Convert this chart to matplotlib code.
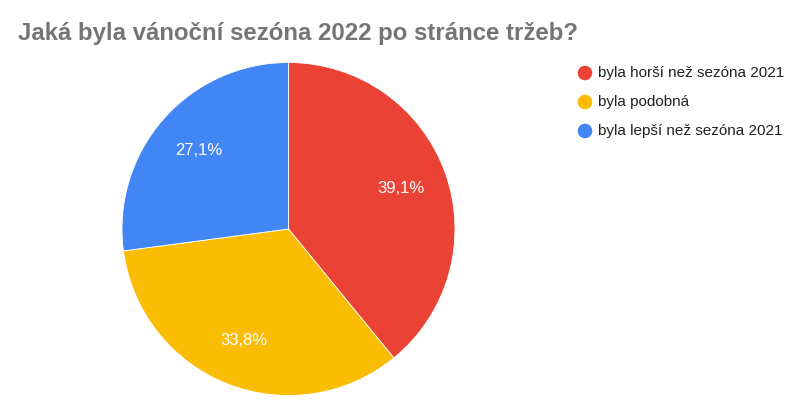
import matplotlib
matplotlib.use("Agg")
import matplotlib.pyplot as plt

plt.rcParams['font.family'] = ['Liberation Sans', 'DejaVu Sans']

title = "Jaká byla vánoční sezóna 2022 po stránce tržeb?"
labels = ["byla horší než sezóna 2021", "byla podobná", "byla lepší než sezóna 2021"]
values = [39.1, 33.8, 27.1]
colors = ["#EA4335", "#FBBC04", "#4285F4"]

W, H = 806, 416
fig = plt.figure(figsize=(W / 100, H / 100), dpi=100)

# pie area: center (288.5, 229) px, radius 166.5 px
cx, cy, r = 288.5, 229, 166.5
ax = fig.add_axes([(cx - r) / W, (H - cy - r) / H, 2 * r / W, 2 * r / H])
wedges, texts, autotexts = ax.pie(
    values, colors=colors, startangle=90, counterclock=False,
    autopct=lambda p: f"{p:.1f}%".replace(".", ","), pctdistance=0.72,
    wedgeprops=dict(edgecolor="white", linewidth=0.6),
    textprops=dict(color="white", fontsize=12), radius=1.0)
ax.set_xlim(-1, 1)
ax.set_ylim(-1, 1)
ax.set_aspect("equal")

fig.text(18 / W, 1 - 40 / H, title, fontsize=17.3, fontweight="bold",
         color="#757575", ha="left", va="baseline")

# legend drawn in pixel coordinates
lax = fig.add_axes([0, 0, 1, 1])
lax.set_xlim(0, W)
lax.set_ylim(H, 0)
lax.axis("off")
rows_y = [73, 102, 131]
for lab, col, y in zip(labels, colors, rows_y):
    lax.scatter([585], [y], s=110, color=col, edgecolors="none")
    lax.text(598, y, lab, fontsize=11, color="#222222", ha="left", va="center")

fig.savefig("out.png", dpi=100)
